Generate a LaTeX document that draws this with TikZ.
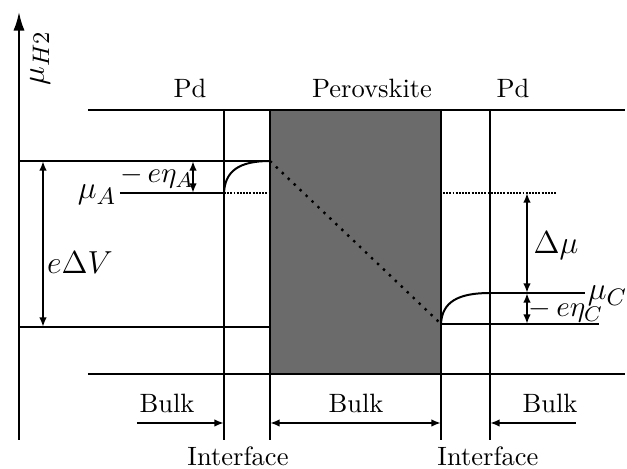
\documentclass[tikz,border=0pt]{standalone}
\usepackage{amsmath}
\usetikzlibrary{arrows.meta}

\tikzset{every picture/.style={line width=0.75pt}}
\tikzset{
  lbl/.style={inner sep=0.75pt},
  midlbl/.style={inner sep=0.75pt, font=\fontsize{11}{13}\selectfont},
  biglbl/.style={inner sep=0.75pt, font=\fontsize{13}{15}\selectfont},
  dimarrow/.style={{Latex[length=3.6pt,width=2.8pt]}-{Latex[length=3.6pt,width=2.8pt]}},
  tiparrow/.style={-{Latex[length=3.6pt,width=2.8pt]}},
  axisarrow/.style={-{Latex[length=7pt,width=4.2pt]}},
  finedots/.style={line width=0.7pt, dash pattern={on 0.7pt off 0.5pt}},
  sparsedots/.style={line width=0.9pt, dash pattern={on 0.9pt off 2.2pt}},
}

\begin{document}
\begin{tikzpicture}[x=0.377pt,y=0.377pt,yscale=-1,xscale=1]
\useasboundingbox (0,0) rectangle (627,469);

% points of the diagram
\coordinate (axisBot) at (19,440);
\coordinate (axisTop) at (19,12);
\coordinate (topL) at (88,110);
\coordinate (topR) at (625,110);
\coordinate (botL) at (88,374);
\coordinate (botR) at (625,374);
\coordinate (perovTL) at (270,110);
\coordinate (perovBR) at (441,374);
\coordinate (hiL) at (19,161);
\coordinate (hiA) at (270,161);
\coordinate (loL) at (19,327);
\coordinate (loA) at (270,327);
\coordinate (muAstart) at (120,193);
\coordinate (muAend) at (224,193);
\coordinate (muAdot) at (270,193);
\coordinate (muCdotL) at (443,193);
\coordinate (muCdotR) at (556,193);
\coordinate (loC) at (441,324);
\coordinate (loCend) at (599,324);
\coordinate (muCstart) at (490,293);
\coordinate (muCend) at (585,293);

% perovskite block
\draw [fill={rgb, 255:red, 107; green, 107; blue, 107 }] (perovTL) rectangle (perovBR);

% axis
\draw [axisarrow] (axisBot) -- (axisTop);

% frame lines
\draw (topL) -- (topR);
\draw (botL) -- (botR);
\foreach \xv in {224,270,441,490}
  \draw (\xv,110) -- (\xv,440);

% levels
\draw (hiL) -- (hiA);
\draw (loL) -- (loA);
\draw (muAstart) -- (muAend);
\draw [finedots] (muAend) -- (muAdot);
\draw (muAend) .. controls (225,171) and (239,161) .. (hiA);
\draw [sparsedots] (hiA) -- (loC);
\draw (loC) .. controls (442,302) and (458,293) .. (muCstart);
\draw (muCstart) -- (muCend);
\draw (loC) -- (loCend);
\draw [finedots] (muCdotL) -- (muCdotR);

% dimension arrows
\coordinate (dVtop) at (43,161);
\coordinate (dVbot) at (43,327);
\coordinate (etaAtop) at (193,161);
\coordinate (etaAbot) at (193,193);
\coordinate (dmuTop) at (527,193);
\coordinate (dmuBot) at (527,293);
\coordinate (etaCbot) at (527,324);
\draw [dimarrow] (dVtop) -- (dVbot);
\draw [dimarrow] (etaAtop) -- (etaAbot);
\draw [dimarrow] (dmuTop) -- (dmuBot);
\draw [dimarrow] (dmuBot) -- (etaCbot);

% bulk arrows
\coordinate (bulkLa) at (137,423);
\coordinate (bulkLb) at (224,423);
\coordinate (bulkMa) at (270,423);
\coordinate (bulkMb) at (441,423);
\coordinate (bulkRa) at (576,423);
\coordinate (bulkRb) at (490,423);
\draw [tiparrow] (bulkLa) -- (bulkLb);
\draw [dimarrow] (bulkMa) -- (bulkMb);
\draw [tiparrow] (bulkRa) -- (bulkRb);

% labels
\node [lbl] (pdLeft) at (190,88) {Pd};
\node [lbl] (perovLabel) at (372,88) {Perovskite};
\node [lbl] (pdRight) at (513,88) {Pd};
\node [biglbl, rotate=90] (muHlabel) at (40,58) {$\mu_{H2}$};
\node [biglbl] (muAlabel) at (97,195) {$\mu_A$};
\node [biglbl, anchor=west] (muClabel) at (585,296) {$\mu_C$};
\node [biglbl] (eDVlabel) at (80,263) {$e\Delta V$};
\node [biglbl] (dmuLabel) at (556,246) {$\Delta\mu$};
\node [midlbl] (etaAlabel) at (157,177) {$-\,e\eta_A$};
\node [midlbl] (etaClabel) at (566,311) {$-\,e\eta_C$};
\node [lbl] (bulkLlabel) at (167,403) {Bulk};
\node [lbl] (bulkMlabel) at (356,403) {Bulk};
\node [lbl] (bulkRlabel) at (550,403) {Bulk};
\node [lbl] (ifaceL) at (238,456) {Interface};
\node [lbl] (ifaceR) at (488,456) {Interface};
\end{tikzpicture}
\end{document}
